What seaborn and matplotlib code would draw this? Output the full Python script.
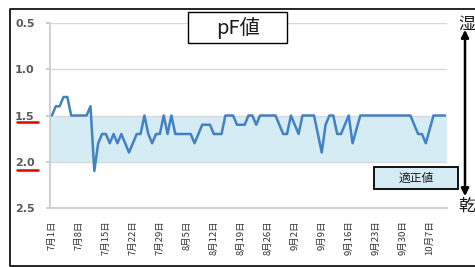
import matplotlib
matplotlib.use('Agg')
import matplotlib.pyplot as plt
import seaborn as sns
import pandas as pd
from matplotlib.patches import Rectangle, FancyArrowPatch
from matplotlib.lines import Line2D

# ---- data (daily pF values from 7/1) ----
pf_values = [
    1.5, 1.4, 1.4, 1.3, 1.3, 1.5, 1.5, 1.5, 1.5, 1.5,
    1.4, 2.1, 1.8, 1.7, 1.7, 1.8, 1.7, 1.8, 1.7, 1.8,
    1.9, 1.8, 1.7, 1.7, 1.5, 1.7, 1.8, 1.7, 1.7, 1.5,
    1.7, 1.5, 1.7, 1.7, 1.7, 1.7, 1.7, 1.8, 1.7, 1.6,
    1.6, 1.6, 1.7, 1.7, 1.7, 1.5, 1.5, 1.5, 1.6, 1.6,
    1.6, 1.5, 1.5, 1.6, 1.5, 1.5, 1.5, 1.5, 1.5, 1.6,
    1.7, 1.7, 1.5, 1.6, 1.7, 1.5, 1.5, 1.5, 1.5, 1.7,
    1.9, 1.6, 1.5, 1.5, 1.7, 1.7, 1.6, 1.5, 1.8, 1.65,
    1.5, 1.5, 1.5, 1.5, 1.5, 1.5, 1.5, 1.5, 1.5, 1.5,
    1.5, 1.5, 1.5, 1.5, 1.6, 1.7, 1.7, 1.8, 1.65, 1.5,
    1.5, 1.5, 1.5,
]
tick_labels = ["7月1日", "7月8日", "7月15日", "7月22日", "7月29日", "8月5日",
               "8月12日", "8月19日", "8月26日", "9月2日", "9月9日", "9月16日",
               "9月23日", "9月30日", "10月7日"]
y_ticks = [0.5, 1.0, 1.5, 2.0, 2.5]
optimal_range = [1.5, 2.0]
title_text = "pF値"
legend_text = "適正値"
wet_text = "湿"
dry_text = "乾"

sns.set_theme(style="white")
plt.rcParams['font.family'] = ['Noto Sans CJK JP', 'DejaVu Sans']

W, H = 475, 267
def fx(px):
    return px / W
def fy(py):
    return 1 - py / H

fig = plt.figure(figsize=(W / 100, H / 100), dpi=100)
ax = fig.add_axes([fx(50), fy(208), (447 - 50) / W, (208 - 23) / H])

df = pd.DataFrame({'day': range(len(pf_values)), 'pF': pf_values})
ax.axhspan(optimal_range[0], optimal_range[1], color='#d6ecf4', lw=0, zorder=0)
sns.lineplot(data=df, x='day', y='pF', ax=ax, color='#4181c4', lw=1.8, zorder=3)

ax.set_ylim(2.5, 0.5)
ax.set_xlim(-0.5, len(pf_values) - 0.5)
ax.set_yticks(y_ticks)
ax.set_yticklabels([f"{v:.1f}" for v in y_ticks])
ax.set_xticks(list(range(0, 7 * len(tick_labels), 7)))
ax.set_xticklabels(tick_labels, rotation=90, fontsize=6.8, color='#333333')
for lab in ax.get_xticklabels():
    lab.set_verticalalignment('top')
ax.set_xlabel('')
ax.set_ylabel('')
ax.yaxis.grid(True, color='#d9d9d9', lw=1)
ax.xaxis.grid(False)
for s in ['top', 'right']:
    ax.spines[s].set_visible(False)
ax.spines['left'].set_color('#c8c8c8')
ax.spines['bottom'].set_color('#d0d0d0')
ax.spines['left'].set_linewidth(1.2)
ax.spines['bottom'].set_linewidth(1.5)
ax.tick_params(axis='y', length=3, color='#c8c8c8', pad=8, labelsize=8,
               labelcolor='#595959', left=True)
for lab in ax.get_yticklabels():
    lab.set_fontweight('bold')
    lab.set_family(['DejaVu Sans'])
ax.tick_params(axis='x', length=0, pad=9)

# red underlines under 1.5 and 2.0
for py in (122, 170):
    fig.add_artist(Line2D([fx(17), fx(38)], [fy(py), fy(py)], color='#e00000', lw=1.8))

# outer frame (right side cut off)
fig.add_artist(Line2D([fx(480), fx(10), fx(10), fx(480)],
                      [fy(9), fy(9), fy(265.5), fy(265.5)], color='black', lw=1.2))

# title box
fig.add_artist(Rectangle((fx(188), fy(43)), (287 - 188) / W, (43 - 12) / H,
                         transform=fig.transFigure, facecolor='white',
                         edgecolor='black', lw=1, zorder=5))
fig.text(fx(238), fy(28), title_text, ha='center', va='center', fontsize=14.5,
         color='#1a1a1a', zorder=6)

# legend box
fig.add_artist(Rectangle((fx(374), fy(189)), (458 - 374) / W, (189 - 167) / H,
                         transform=fig.transFigure, facecolor='#d6ecf4',
                         edgecolor='black', lw=1.3, zorder=5))
fig.text(fx(416), fy(178), legend_text, ha='center', va='center', fontsize=8.5,
         color='#1a1a1a', zorder=6)

# wet / dry arrow
fig.add_artist(FancyArrowPatch((fx(465), fy(199)), (fx(465), fy(27)),
                               transform=fig.transFigure, arrowstyle='<|-|>',
                               mutation_scale=11, lw=1.8, color='black'))
fig.text(fx(458), fy(24), wet_text, ha='left', va='center', fontsize=12, color='#1a1a1a')
fig.text(fx(458), fy(206), dry_text, ha='left', va='center', fontsize=12, color='#1a1a1a')

fig.savefig('out.png', dpi=100)
